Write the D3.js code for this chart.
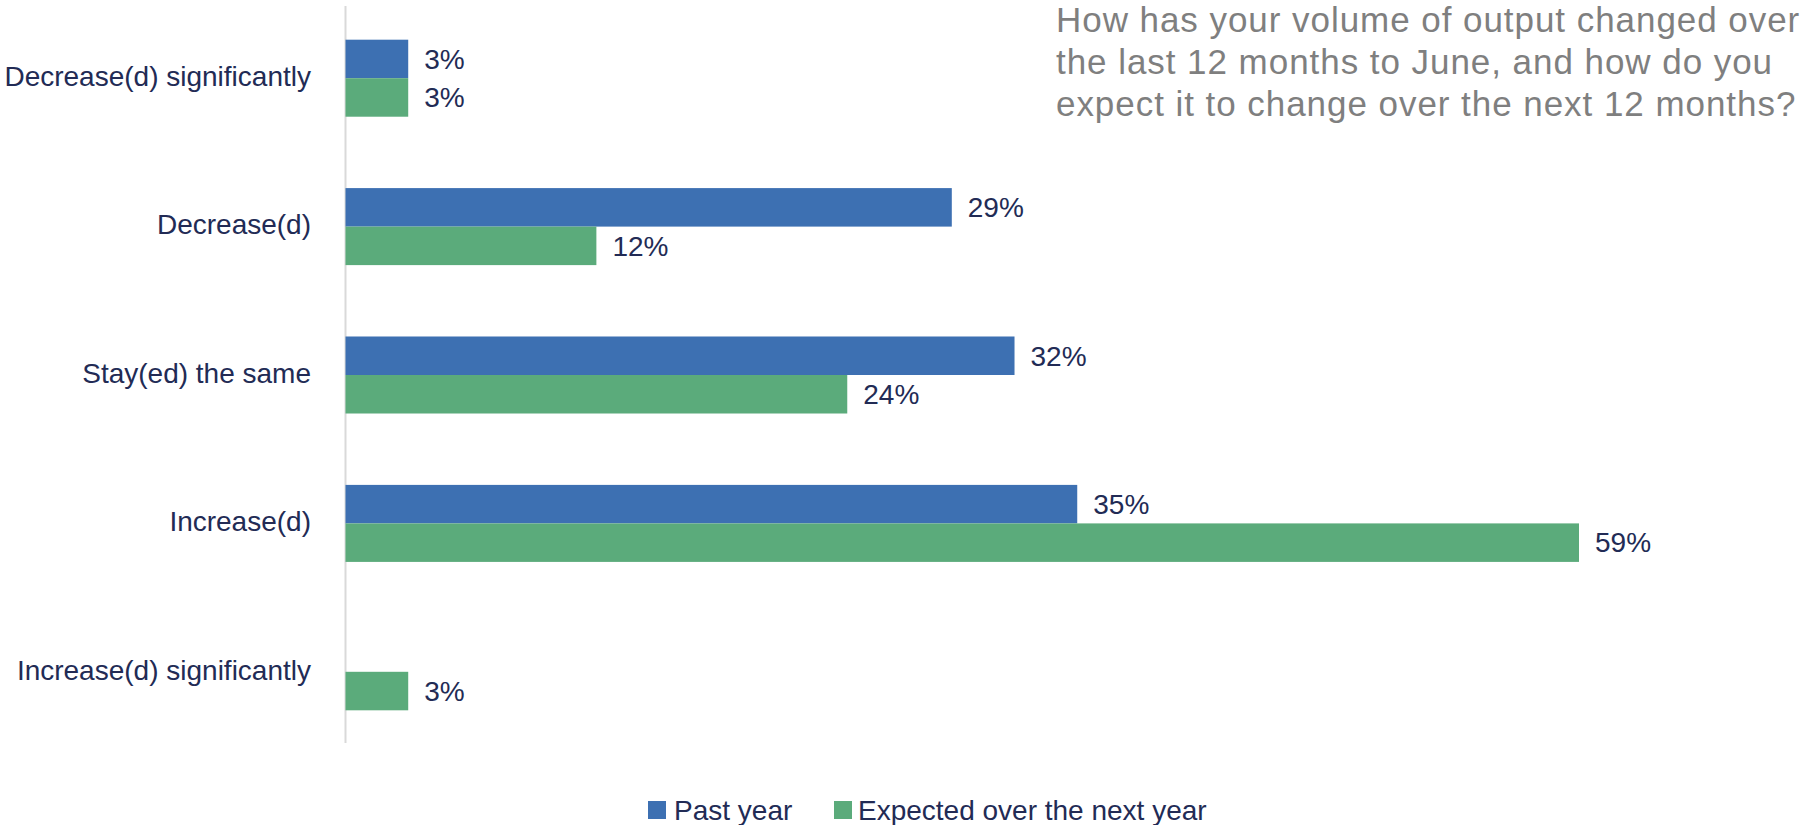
<!DOCTYPE html>
<html>
<head>
<meta charset="utf-8">
<script src="https://cdn.jsdelivr.net/npm/d3@7"></script>
<style>
  html, body { margin: 0; padding: 0; background: #ffffff; }
  svg { display: block; font-family: "Liberation Sans", Arial, sans-serif; }
</style>
</head>
<body>
<svg id="chart" width="1806" height="825"></svg>
<script>
// Survey answers, top to bottom
const categories = [
  "Decrease(d) significantly",
  "Decrease(d)",
  "Stay(ed) the same",
  "Increase(d)",
  "Increase(d) significantly"
];
const seriesNames = ["Past year", "Expected over the next year"];
const pastYear = [3, 29, 32, 35, null];
const nextYear = [3, 12, 24, 59, 3];
const titleLines = [
  "How has your volume of output changed over",
  "the last 12 months to June, and how do you",
  "expect it to change over the next 12 months?"
];

const colors = ["#3d70b2", "#5bab7b"];
const textColor = "#222b55";

const svg = d3.select("#chart");

const x = d3.scaleLinear().domain([0, 59]).range([345.5, 1579]);
const y = d3.scaleBand().domain(categories).range([4, 746]).padding(0);
const ySub = d3.scaleBand().domain(seriesNames)
  .range([0, y.bandwidth()]).paddingInner(0).paddingOuter(0.927);

const rows = categories.map((c, i) => ({
  category: c,
  values: [
    { series: seriesNames[0], value: pastYear[i] },
    { series: seriesNames[1], value: nextYear[i] }
  ]
}));

// Vertical baseline at zero
svg.append("line")
  .attr("x1", x(0)).attr("x2", x(0))
  .attr("y1", 6).attr("y2", 743)
  .attr("stroke", "#d9d9d9").attr("stroke-width", 2);

const groups = svg.selectAll("g.row").data(rows).join("g")
  .attr("class", "row")
  .attr("transform", d => `translate(0,${y(d.category)})`);

const cells = groups.selectAll("g.cell")
  .data(d => d.values.filter(v => v.value != null))
  .join("g").attr("class", "cell");

cells.append("rect")
  .attr("x", x(0))
  .attr("y", d => ySub(d.series))
  .attr("width", d => x(d.value) - x(0))
  .attr("height", ySub.bandwidth())
  .attr("fill", d => colors[seriesNames.indexOf(d.series)]);

cells.append("text")
  .attr("x", d => x(d.value) + 16)
  .attr("y", d => ySub(d.series) + ySub.bandwidth() / 2)
  .attr("dy", "0.35em")
  .attr("font-size", 28)
  .attr("fill", textColor)
  .text(d => d.value + "%");

// Category labels on the left
const yAxis = d3.axisLeft(y).tickSize(0).tickPadding(0);
const axisG = svg.append("g")
  .attr("transform", `translate(311,0)`)
  .call(yAxis);
axisG.select(".domain").remove();
axisG.selectAll("text")
  .attr("font-size", 28)
  .attr("font-family", "Liberation Sans, Arial, sans-serif")
  .attr("fill", textColor)
  .attr("dy", "0.28em");

// Question text
svg.append("text")
  .attr("x", 1056).attr("y", 32)
  .attr("font-size", 35)
  .attr("letter-spacing", 0.95)
  .attr("fill", "#7f7f7f")
  .selectAll("tspan").data(titleLines).join("tspan")
  .attr("x", 1056)
  .attr("dy", (d, i) => i === 0 ? 0 : 42)
  .text(d => d);

// Legend
const legendItems = [
  { name: seriesNames[0], sx: 648, tx: 674 },
  { name: seriesNames[1], sx: 834, tx: 858 }
];
const legend = svg.selectAll("g.legend").data(legendItems).join("g").attr("class", "legend");
legend.append("rect")
  .attr("x", d => d.sx).attr("y", 801)
  .attr("width", 18).attr("height", 18)
  .attr("fill", (d, i) => colors[i]);
legend.append("text")
  .attr("x", d => d.tx).attr("y", 810)
  .attr("dy", "0.35em")
  .attr("font-size", 28)
  .attr("fill", textColor)
  .text(d => d.name);
</script>
</body>
</html>
